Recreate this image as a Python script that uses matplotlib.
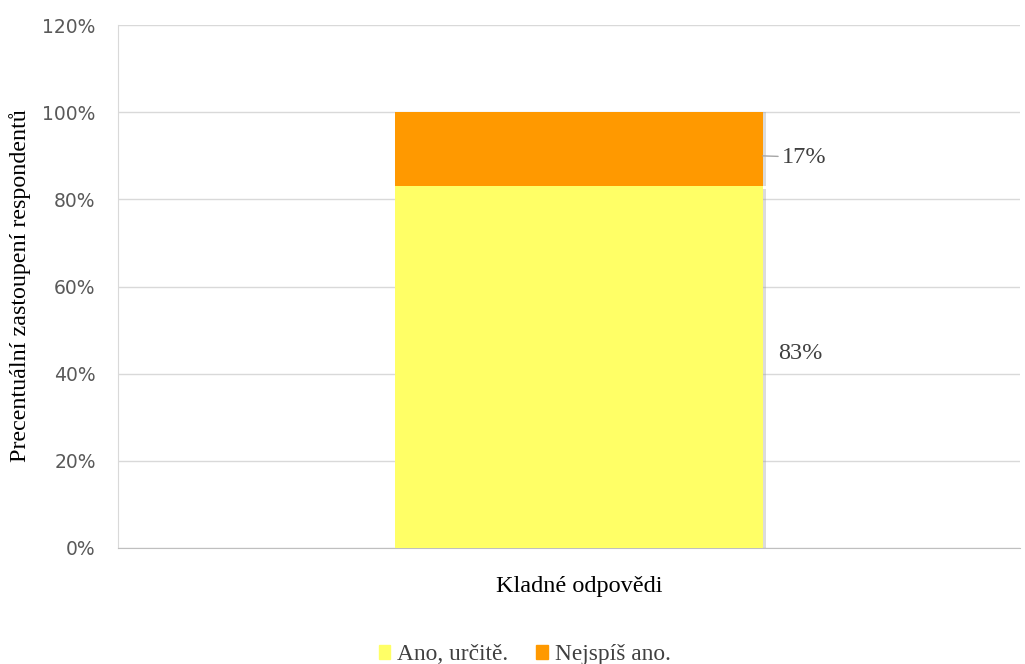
import matplotlib.pyplot as plt
import matplotlib.patheffects as pe
import matplotlib.patches as mpatches
from matplotlib.ticker import PercentFormatter

# data
categories = ['Kladné odpovědi']
series = ['Ano, určitě.', 'Nejspíš ano.']
values = [83, 17]
colors = ['#FFFF66', '#FF9900']

fig = plt.figure(figsize=(10.25, 6.64), dpi=100)
ax = fig.add_axes([0.115, 0.175, 0.88, 0.787])

serif = 'Liberation Serif'

bottom = 0
bars = []
for k, (name, v, c) in enumerate(zip(series, values, colors)):
    off = (2, -2) if k == 0 else (2, 0)
    shadow = [pe.SimplePatchShadow(offset=off, shadow_rgbFace='#999999', alpha=0.35), pe.Normal()]
    b = ax.bar(0, v, width=0.408, bottom=bottom, color=c, zorder=3, path_effects=shadow)
    bars.append(b[0])
    bottom += v

# data labels
right = bars[0].get_x() + bars[0].get_width()
ax.annotate(f'{values[0]}%', xy=(right, values[0] / 2), xytext=(11, 10),
            textcoords='offset points', ha='left', va='center',
            fontsize=17.5, family=serif, color='#404040')
y17 = values[0] + values[1] / 2
ax.annotate(f'{values[1]}%', xy=(right, y17 - 1.5), xytext=(14, -1),
            textcoords='offset points', ha='left', va='center',
            fontsize=17.5, family=serif, color='#404040',
            arrowprops=dict(arrowstyle='-', color='#a6a6a6', lw=1,
                            shrinkA=1, shrinkB=0))

ax.set_xlim(-0.511, 0.489)
ax.set_ylim(0, 120)
ax.set_yticks(range(0, 121, 20))
ax.yaxis.set_major_formatter(PercentFormatter(decimals=0))
ax.set_xticks([0])
ax.set_xticklabels(categories, family=serif, fontsize=17.5, color='#000000')
ax.tick_params(axis='x', length=0, pad=20)
ax.tick_params(axis='y', length=0, pad=16, labelsize=13.5, labelcolor='#595959')

ax.grid(axis='y', color='#d9d9d9', lw=1, zorder=0)
for s in ['top', 'right']:
    ax.spines[s].set_visible(False)
ax.spines['left'].set_color('#d9d9d9')
ax.spines['bottom'].set_color('#bfbfbf')

fig.text(20 / 1025, 1 - 286 / 664, 'Precentuální zastoupení respondentů', family=serif,
         fontsize=17.3, color='#000000', rotation=90, ha='center', va='center')

handles = [mpatches.Patch(color=c, label=n) for n, c in zip(series, colors)]
ax.legend(handles=handles, loc='center', bbox_to_anchor=(0.451, -0.205), ncol=2,
          frameon=False, prop={'family': serif, 'size': 16.8}, handlelength=0.5,
          handleheight=0.5, handletextpad=0.3, columnspacing=1.2, labelcolor='#404040')

fig.savefig('out.png', dpi=100)
